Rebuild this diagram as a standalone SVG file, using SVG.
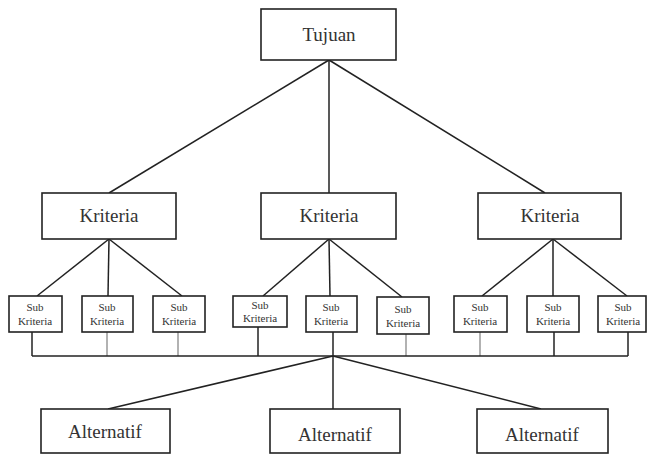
<svg xmlns="http://www.w3.org/2000/svg" width="648" height="455" viewBox="0 0 648 455">
<style>
.box{fill:#fff;stroke:#222;stroke-width:1.6}
.big{font-size:19px;fill:#333;text-anchor:middle}
.sm{font-size:11px;fill:#333;text-anchor:middle}
.ln{stroke:#222;stroke-width:1.5;fill:none}
.lg{stroke:#999;stroke-width:1.5;fill:none}
</style>
<rect width="648" height="455" fill="#fff"/>
<g id="connectors">
<line class="ln" x1="329" y1="60" x2="109" y2="193"/>
<line class="ln" x1="329" y1="60" x2="329" y2="193"/>
<line class="ln" x1="329" y1="60" x2="545" y2="193"/>
<line class="ln" x1="109" y1="239" x2="37" y2="296"/>
<line class="ln" x1="109" y1="239" x2="108" y2="296"/>
<line class="ln" x1="109" y1="239" x2="182" y2="296"/>
<line class="ln" x1="329" y1="239" x2="263" y2="296"/>
<line class="ln" x1="329" y1="239" x2="330" y2="296"/>
<line class="ln" x1="329" y1="239" x2="402" y2="297"/>
<line class="ln" x1="553" y1="239" x2="482" y2="296"/>
<line class="ln" x1="553" y1="239" x2="553" y2="296"/>
<line class="ln" x1="553" y1="239" x2="627" y2="296"/>
<line class="ln" x1="32" y1="332" x2="32" y2="356"/>
<line class="lg" x1="107" y1="332" x2="107" y2="356"/>
<line class="lg" x1="178" y1="332" x2="178" y2="356"/>
<line class="ln" x1="258" y1="327" x2="258" y2="356"/>
<line class="ln" x1="333" y1="332" x2="333" y2="356"/>
<line class="lg" x1="406" y1="334" x2="406" y2="356"/>
<line class="lg" x1="480" y1="332" x2="480" y2="356"/>
<line class="ln" x1="554" y1="332" x2="554" y2="356"/>
<line class="ln" x1="628" y1="332" x2="628" y2="356"/>
<line class="ln" x1="32" y1="356" x2="628" y2="356"/>
<line class="ln" x1="333" y1="356" x2="108" y2="409"/>
<line class="ln" x1="333" y1="356" x2="333" y2="409"/>
<line class="ln" x1="333" y1="356" x2="541" y2="409"/>
</g>
<g font-family="Liberation Serif, serif">
<g id="tujuan"><rect class="box" x="261" y="9" width="135" height="51"/><text class="big" x="329" y="41">Tujuan</text></g>
<g id="kriteria1"><rect class="box" x="42" y="193" width="134" height="46"/><text class="big" x="109" y="222">Kriteria</text></g>
<g id="kriteria2"><rect class="box" x="261" y="193" width="135" height="46"/><text class="big" x="329" y="222">Kriteria</text></g>
<g id="kriteria3"><rect class="box" x="478" y="193" width="143" height="46"/><text class="big" x="550" y="222">Kriteria</text></g>
<g id="sub1"><rect class="box" x="9" y="296" width="53" height="36"/><text class="sm" x="35" y="311">Sub</text><text class="sm" x="35" y="325">Kriteria</text></g>
<g id="sub2"><rect class="box" x="82" y="296" width="51" height="36"/><text class="sm" x="107" y="311">Sub</text><text class="sm" x="107" y="325">Kriteria</text></g>
<g id="sub3"><rect class="box" x="153" y="296" width="52" height="36"/><text class="sm" x="179" y="311">Sub</text><text class="sm" x="179" y="325">Kriteria</text></g>
<g id="sub4"><rect class="box" x="233" y="296" width="54" height="31"/><text class="sm" x="260" y="309">Sub</text><text class="sm" x="260" y="322">Kriteria</text></g>
<g id="sub5"><rect class="box" x="306" y="296" width="51" height="36"/><text class="sm" x="331" y="311">Sub</text><text class="sm" x="331" y="325">Kriteria</text></g>
<g id="sub6"><rect class="box" x="377" y="297" width="52" height="37"/><text class="sm" x="403" y="313">Sub</text><text class="sm" x="403" y="327">Kriteria</text></g>
<g id="sub7"><rect class="box" x="454" y="296" width="53" height="36"/><text class="sm" x="480" y="311">Sub</text><text class="sm" x="480" y="325">Kriteria</text></g>
<g id="sub8"><rect class="box" x="527" y="296" width="52" height="36"/><text class="sm" x="553" y="311">Sub</text><text class="sm" x="553" y="325">Kriteria</text></g>
<g id="sub9"><rect class="box" x="598" y="296" width="48" height="36"/><text class="sm" x="623" y="311">Sub</text><text class="sm" x="623" y="325">Kriteria</text></g>
<g id="alt1"><rect class="box" x="41" y="409" width="129" height="44"/><text class="big" x="105" y="438">Alternatif</text></g>
<g id="alt2"><rect class="box" x="270" y="409" width="130" height="44"/><text class="big" x="335" y="441">Alternatif</text></g>
<g id="alt3"><rect class="box" x="477" y="409" width="131" height="44"/><text class="big" x="542" y="441">Alternatif</text></g>
</g>
</svg>
